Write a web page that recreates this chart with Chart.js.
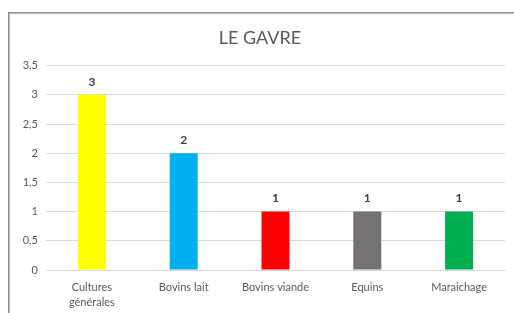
<!DOCTYPE html>
<html>
<head>
<meta charset="utf-8">
<script src="https://cdn.jsdelivr.net/npm/chart.js@4/dist/chart.umd.min.js"></script>
<style>
  html, body { margin: 0; padding: 0; background: #fff; overflow: hidden; }
  #wrap { position: relative; width: 514px; height: 313px; }
  #frame {
    position: absolute; left: 8px; top: 12px; width: 520px; height: 320px;
    border: 1px solid #8a8a8a; box-shadow: 1px 1px 1px #bbb inset;
  }
  canvas { position: absolute; left: 0; top: 0; }
</style>
</head>
<body>
<div id="wrap">
  <div id="frame"></div>
  <canvas id="c" width="514" height="313"></canvas>
</div>
<script>
// Le Gavre — farm counts by type of production
const categories = [["Cultures", "générales"], "Bovins lait", "Bovins viande", "Equins", "Maraichage"];
const values = [3, 2, 1, 1, 1];
const barColors = ["#ffff00", "#00b0f0", "#ff0000", "#767171", "#00b050"];
const yTicks = [0, 0.5, 1, 1.5, 2, 2.5, 3, 3.5];

const FONT = 'Lato, "Open Sans", sans-serif';
const TEXT = "#595959";

// values above each bar, bold
const valueLabels = {
  id: "valueLabels",
  afterDatasetsDraw(chart) {
    const ctx = chart.ctx;
    const meta = chart.getDatasetMeta(0);
    ctx.save();
    ctx.font = "bold 12px " + FONT;
    ctx.fillStyle = "#404040";
    ctx.textAlign = "center";
    ctx.textBaseline = "middle";
    meta.data.forEach((bar, i) => {
      ctx.fillText(String(values[i]), bar.x, bar.y - 13);
    });
    ctx.restore();
  },
};

new Chart(document.getElementById("c"), {
  type: "bar",
  data: {
    labels: categories,
    datasets: [{
      data: values,
      backgroundColor: barColors,
      borderWidth: 0,
      barPercentage: 0.305,
      categoryPercentage: 1,
    }],
  },
  options: {
    responsive: false,
    animation: false,
    layout: { padding: { top: 27, right: 9, left: 15, bottom: 0 } },
    scales: {
      x: {
        grid: { display: false },
        border: { color: "#d9d9d9" },
        ticks: {
          color: TEXT,
          font: { family: FONT, size: 11, lineHeight: 1.35 },
          padding: 2,
          maxRotation: 0,
          autoSkip: false,
        },
        afterFit: (s) => { s.height = 43; },
      },
      y: {
        min: 0,
        max: 3.5,
        afterBuildTicks: (s) => { s.ticks = yTicks.map((v) => ({ value: v })); },
        grid: { color: "#d9d9d9", drawTicks: false },
        border: { display: false },
        ticks: {
          color: TEXT,
          font: { family: FONT, size: 11 },
          padding: 8,
          callback: (v) => String(v).replace(".", ","),
        },
        afterFit: (s) => { s.width = 31; },
      },
    },
    plugins: {
      legend: { display: false },
      tooltip: { enabled: false },
      title: {
        display: true,
        text: "LE GAVRE",
        color: TEXT,
        font: { family: FONT, size: 18, weight: "normal", lineHeight: 1.2 },
        padding: { top: 0, bottom: 17 },
      },
    },
  },
  plugins: [valueLabels],
});
</script>
</body>
</html>
